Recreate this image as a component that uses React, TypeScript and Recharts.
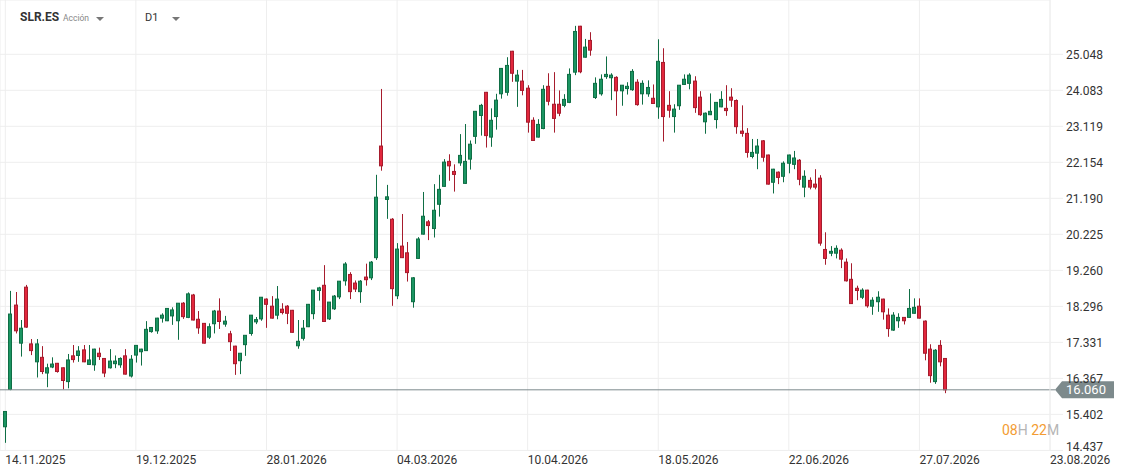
import React from "react";
import { ComposedChart, Bar, XAxis, YAxis, CartesianGrid, ReferenceLine } from "recharts";

const openValues = [
  15.07, 16.07, 18.33, 17.31, 18.81, 17.29, 16.81, 16.93, 16.51, 16.67,
  16.77, 16.65, 16.28, 16.97, 16.98, 17.13, 16.74, 16.73, 17.04, 16.90,
  16.65, 16.76, 16.73, 16.97, 16.43, 16.99, 17.08, 17.11, 17.62, 17.64,
  17.98, 17.91, 18.04, 17.91, 18.38, 18.00, 18.60, 17.95, 17.84, 17.47,
  17.83, 18.17, 17.82, 17.56, 17.23, 16.84, 17.27, 17.57, 17.88, 17.96,
  18.49, 18.30, 18.06, 18.22, 18.30, 18.19, 17.24, 17.44, 17.75, 18.10,
  18.72, 18.86, 17.96, 18.23, 18.55, 18.98, 19.15, 18.92, 18.69, 19.08,
  19.06, 19.60, 22.59, 21.16, 20.63, 18.58, 19.91, 19.73, 18.42, 19.58,
  20.23, 20.56, 20.38, 21.03, 21.51, 22.18, 21.91, 22.14, 21.59, 22.24,
  22.85, 23.41, 24.03, 22.83, 23.38, 23.99, 24.03, 25.13, 24.33, 24.33,
  24.14, 23.28, 22.83, 23.06, 24.19, 23.71, 23.71, 23.68, 23.76, 24.57,
  25.80, 24.97, 25.42, 23.89, 23.99, 24.45, 24.42, 24.43, 24.07, 24.13,
  24.10, 24.30, 23.99, 23.99, 23.87, 23.64, 24.83, 23.68, 23.38, 23.67,
  24.24, 24.27, 24.33, 23.90, 23.24, 23.43, 23.30, 23.64, 23.60, 23.90,
  23.81, 22.99, 22.93, 22.31, 22.40, 22.73, 22.35, 21.62, 21.89, 21.78,
  22.13, 22.10, 22.21, 21.49, 21.67, 21.57, 21.73, 19.82, 19.72, 19.72,
  19.80, 19.48, 19.02, 18.78, 18.54, 18.73, 18.30, 18.42, 18.49, 18.06,
  17.66, 17.91, 18.00, 18.00, 18.11, 18.30, 17.90, 17.15, 16.28, 17.25,
  16.90,
];

const highValues = [
  15.49, 18.71, 18.68, 17.93, 18.87, 17.42, 17.42, 17.23, 16.76, 16.93,
  16.78, 16.66, 17.02, 17.26, 17.23, 17.26, 17.26, 17.16, 17.19, 16.91,
  17.15, 16.98, 16.93, 17.15, 16.99, 17.26, 17.16, 17.90, 17.74, 17.99,
  18.11, 18.25, 18.27, 18.38, 18.41, 18.67, 18.63, 18.17, 17.85, 17.84,
  18.20, 18.51, 18.04, 17.64, 17.24, 17.04, 17.52, 18.06, 18.01, 18.54,
  18.51, 18.57, 18.84, 18.38, 18.33, 18.20, 17.93, 17.93, 18.36, 18.73,
  18.82, 19.40, 18.41, 18.60, 18.97, 19.48, 19.21, 18.99, 19.00, 19.44,
  19.51, 21.82, 24.12, 21.55, 20.66, 19.99, 20.77, 20.02, 19.08, 20.15,
  21.36, 20.61, 21.57, 21.82, 22.24, 22.37, 22.10, 22.91, 23.18, 22.74,
  23.53, 23.72, 24.04, 23.60, 23.99, 24.68, 24.97, 25.14, 24.63, 24.63,
  24.22, 23.36, 23.31, 24.22, 24.54, 24.57, 24.08, 23.98, 24.67, 25.81,
  25.81, 25.46, 25.64, 24.43, 24.51, 24.99, 24.54, 24.46, 24.22, 24.30,
  24.65, 24.38, 24.35, 24.35, 24.24, 25.45, 25.21, 24.06, 23.71, 24.22,
  24.51, 24.54, 24.46, 24.06, 23.49, 24.00, 23.77, 24.06, 24.22, 24.14,
  23.84, 23.68, 23.07, 22.78, 22.78, 22.75, 22.36, 21.98, 21.91, 22.18,
  22.36, 22.46, 22.24, 21.94, 21.75, 21.97, 21.81, 20.28, 19.91, 19.93,
  19.85, 19.58, 19.45, 18.85, 18.78, 18.74, 18.54, 18.70, 18.50, 18.24,
  18.14, 18.11, 18.01, 18.76, 18.51, 18.51, 17.92, 17.28, 17.15, 17.39,
  16.91,
];

const lowValues = [
  14.64, 16.05, 17.57, 16.95, 17.72, 16.99, 16.39, 16.48, 16.13, 16.64,
  16.52, 16.07, 16.10, 16.79, 16.81, 16.80, 16.73, 16.57, 16.86, 16.40,
  16.63, 16.64, 16.65, 16.47, 16.39, 16.79, 16.71, 17.10, 17.59, 17.56,
  17.86, 17.90, 17.80, 17.40, 17.96, 17.98, 17.92, 17.56, 17.30, 17.42,
  17.57, 17.69, 17.75, 17.10, 16.46, 16.48, 16.97, 17.51, 17.82, 17.91,
  17.72, 17.97, 17.95, 18.08, 17.82, 17.59, 17.16, 17.38, 17.74, 17.95,
  18.45, 17.88, 17.93, 18.20, 18.49, 18.85, 18.49, 18.68, 18.39, 18.85,
  19.00, 19.54, 21.93, 20.64, 18.31, 18.49, 19.59, 18.96, 18.26, 19.57,
  20.22, 20.07, 20.14, 20.70, 21.50, 21.66, 21.37, 22.06, 21.58, 21.96,
  22.65, 22.87, 22.55, 22.57, 23.03, 23.86, 23.94, 24.31, 23.64, 23.95,
  22.95, 22.73, 22.82, 23.04, 23.68, 22.95, 23.39, 23.63, 23.74, 24.49,
  24.54, 24.96, 25.01, 23.85, 23.94, 24.39, 23.82, 23.40, 23.67, 23.97,
  24.07, 23.67, 23.70, 23.91, 23.72, 23.32, 22.71, 23.35, 22.95, 23.56,
  24.23, 24.11, 23.48, 23.40, 22.92, 23.42, 23.06, 23.63, 23.40, 23.64,
  22.92, 22.84, 22.28, 22.26, 21.97, 22.17, 21.56, 21.32, 21.57, 21.62,
  21.86, 21.97, 21.54, 21.22, 21.43, 21.43, 19.92, 19.41, 19.64, 19.58,
  19.32, 18.96, 18.36, 18.46, 18.49, 18.26, 18.07, 18.15, 17.94, 17.48,
  17.64, 17.72, 17.81, 17.99, 18.10, 17.97, 16.85, 16.25, 16.22, 16.69,
  15.97,
];

const closeValues = [
  15.48, 18.09, 17.64, 17.71, 17.74, 17.11, 17.29, 16.55, 16.65, 16.75,
  16.55, 16.31, 16.86, 16.87, 17.10, 16.81, 16.86, 17.15, 16.95, 16.51,
  16.83, 16.83, 16.90, 16.48, 16.88, 17.25, 17.15, 17.68, 17.73, 17.98,
  18.06, 18.24, 18.20, 18.38, 18.02, 18.63, 17.93, 17.72, 17.31, 17.75,
  18.17, 17.89, 17.90, 17.35, 16.76, 17.04, 17.52, 18.06, 17.94, 18.54,
  18.35, 17.98, 18.49, 18.13, 18.11, 17.60, 17.36, 17.71, 18.35, 18.73,
  18.79, 17.89, 18.41, 18.57, 18.97, 19.43, 18.69, 18.76, 18.97, 19.01,
  19.48, 21.22, 22.06, 21.23, 18.77, 19.83, 19.60, 19.20, 19.06, 20.10,
  20.71, 20.46, 20.87, 21.43, 22.16, 22.06, 21.83, 22.34, 22.18, 22.64,
  23.52, 23.68, 22.87, 23.28, 23.82, 24.67, 24.75, 24.54, 24.49, 24.08,
  23.23, 22.74, 23.17, 24.11, 23.79, 23.33, 23.47, 23.84, 24.51, 25.66,
  24.58, 25.24, 25.16, 24.27, 24.38, 24.51, 24.49, 24.07, 24.22, 24.19,
  24.59, 23.70, 24.27, 24.16, 23.73, 24.86, 23.38, 23.55, 23.58, 24.22,
  24.38, 24.49, 23.62, 23.43, 23.47, 23.52, 23.76, 23.84, 23.54, 23.82,
  23.11, 22.93, 22.42, 22.42, 22.59, 22.29, 21.57, 21.97, 21.75, 22.13,
  22.35, 22.27, 21.70, 21.78, 21.49, 21.49, 19.99, 19.58, 19.77, 19.85,
  19.56, 18.98, 18.37, 18.72, 18.73, 18.31, 18.46, 18.54, 18.15, 17.70,
  18.06, 18.00, 17.91, 18.24, 18.27, 17.98, 17.04, 16.44, 17.12, 16.81,
  16.06,
];

const dateTicks = [0, 25, 50, 75, 100, 125, 150, 175, 200];
const dateLabels = [
  "14.11.2025", "19.12.2025", "28.01.2026", "04.03.2026", "10.04.2026",
  "18.05.2026", "22.06.2026", "27.07.2026", "23.08.2026",
];
const priceTicks = [14.437, 15.402, 16.367, 17.331, 18.296, 19.26, 20.225, 21.19, 22.154, 23.119, 24.083, 25.048];
const lastPrice = 16.06;

const data = openValues.map((o, i) => ({
  i,
  open: o,
  high: highValues[i],
  low: lowValues[i],
  close: closeValues[i],
  range: [lowValues[i], highValues[i]],
}));

const GREEN = "#1b9562";
const GREEN_DARK = "#0f6e45";
const RED = "#e2273d";
const RED_DARK = "#a61c2d";
const GRID = "#eeeeee";
const FONT = "Roboto, 'Noto Sans', sans-serif";

function Candle(props: any) {
  const { x, y, width, height } = props;
  if (x == null || y == null || height == null) return null;
  const p = props.payload || props;
  const { open, close, high, low } = p;
  const top = Math.min(y, y + height);
  const h = Math.abs(height);
  const k = h / (high - low);
  const yO = top + (high - open) * k;
  const yC = top + (high - close) * k;
  const up = close >= open;
  const fill = up ? GREEN : RED;
  const stroke = up ? GREEN_DARK : RED_DARK;
  const cx = Math.round(x + width / 2) + 0.5;
  const bTop = Math.min(yO, yC);
  const bH = Math.max(Math.abs(yO - yC), 1);
  return (
    <g>
      <line x1={cx} x2={cx} y1={top} y2={top + h} stroke={stroke} strokeWidth={1} />
      <rect x={cx - 2} y={bTop} width={3} height={bH} fill={fill} stroke={stroke} strokeWidth={1} />
    </g>
  );
}

function XTick(props: any) {
  const { x, y, payload } = props;
  const idx = dateTicks.indexOf(payload.value);
  return (
    <text x={x} y={y} dy="0.71em" textAnchor="start" fill="#333" fontSize={12} fontFamily={FONT}>
      {idx >= 0 ? dateLabels[idx] : ""}
    </text>
  );
}

function YTick(props: any) {
  const { x, y, payload } = props;
  const dy = payload.value === priceTicks[0] ? -4 : 0;
  return (
    <text x={x} y={y + dy} dy="0.355em" textAnchor="start" fill="#333" fontSize={12} fontFamily={FONT}>
      {Number(payload.value).toFixed(3)}
    </text>
  );
}

function PriceTag(props: any) {
  const vb = props.viewBox || {};
  const y = vb.y;
  const xEnd = (vb.x || 0) + (vb.width || 0);
  if (y == null) return null;
  const tipX = xEnd + 5;
  return (
    <g>
      <line x1={xEnd} x2={tipX} y1={y} y2={y} stroke="#7d8a8c" strokeWidth={1} />
      <polygon
        points={`${tipX},${y} ${tipX + 7},${y - 8.5} ${tipX + 59},${y - 8.5} ${tipX + 59},${y + 8.5} ${tipX + 7},${y + 8.5}`}
        fill="#7d8a8c"
      />
      <text x={tipX + 31} y={y} dy="0.355em" textAnchor="middle" fill="#ffffff" fontSize={13} fontFamily={FONT}>
        {lastPrice.toFixed(3)}
      </text>
    </g>
  );
}

function Caret({ left, top }: { left: number; top: number }) {
  return (
    <div
      style={{
        position: "absolute",
        left,
        top,
        width: 0,
        height: 0,
        borderLeft: "4px solid transparent",
        borderRight: "4px solid transparent",
        borderTop: "4px solid #777",
      }}
    />
  );
}

export default function App() {
  return (
    <div
      style={{
        position: "absolute",
        left: 0,
        top: 0,
        width: 1127,
        height: 476,
        background: "#ffffff",
        fontFamily: FONT,
        overflow: "hidden",
      }}
    >
      <ComposedChart width={1127} height={476} data={data} margin={{ top: 0, right: 0, bottom: 0, left: 0 }}>
        <CartesianGrid stroke={GRID} />
        <XAxis
          dataKey="i"
          type="number"
          domain={[-1.015, 200]}
          allowDataOverflow
          ticks={dateTicks}
          interval={0}
          tick={<XTick />}
          tickLine={false}
          axisLine={false}
          tickSize={0}
          tickMargin={5}
          height={25.6}
        />
        <YAxis
          orientation="right"
          type="number"
          domain={[14.437, 26.5026]}
          allowDataOverflow
          ticks={priceTicks}
          interval={0}
          width={77}
          tick={<YTick />}
          tickSize={13}
          tickMargin={3}
          tickLine={{ stroke: GRID }}
          axisLine={{ stroke: GRID }}
        />
        <ReferenceLine y={lastPrice} stroke="#7d8a8c" strokeWidth={1} label={<PriceTag />} ifOverflow="visible" />
        <Bar dataKey="range" barSize={5} shape={<Candle />} isAnimationActive={false} />
      </ComposedChart>

      <div style={{ position: "absolute", left: 20, top: 10, fontSize: 12, fontWeight: 700, color: "#333" }}>SLR.ES</div>
      <div style={{ position: "absolute", left: 63, top: 13, fontSize: 8.5, color: "#888" }}>Acción</div>
      <Caret left={96} top={17} />
      <div style={{ position: "absolute", left: 145, top: 11, fontSize: 11, color: "#333" }}>D1</div>
      <Caret left={172} top={17} />

      <div style={{ position: "absolute", left: 1002, top: 422, fontSize: 14, letterSpacing: 0 }}>
        <span style={{ color: "#f39c32" }}>08</span>
        <span style={{ color: "#b5b5b5" }}>H </span>
        <span style={{ color: "#f39c32" }}>22</span>
        <span style={{ color: "#b5b5b5" }}>M</span>
      </div>
    </div>
  );
}
